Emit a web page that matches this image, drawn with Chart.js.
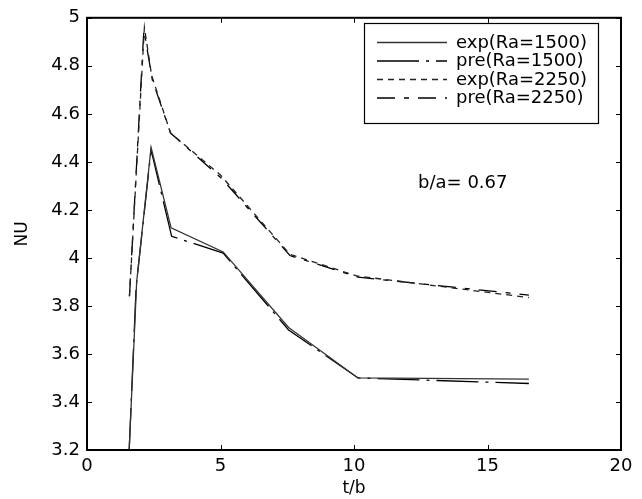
<!DOCTYPE html>
<html>
<head>
<meta charset="utf-8">
<script src="https://cdn.jsdelivr.net/npm/chart.js@4.4.1/dist/chart.umd.min.js"></script>
<style>
  html, body { margin: 0; padding: 0; background: #fff; }
  #wrap { width: 642px; height: 499px; }
</style>
</head>
<body>
<div id="wrap"><canvas id="chart"></canvas></div>
<script>
"use strict";

// values (t/b on x, NU on y)
const exp1500X = [1.58, 1.86, 2.40, 3.15, 5.10, 7.55, 10.15, 16.55];
const exp1500Y = [3.20, 3.90, 4.46, 4.125, 4.025, 3.71, 3.50, 3.495];
const pre1500X = [1.58, 1.84, 2.40, 3.17, 5.10, 7.55, 10.15, 16.55];
const pre1500Y = [3.20, 3.88, 4.45, 4.09, 4.02, 3.70, 3.50, 3.477];
const exp2250X = [1.59, 2.15, 2.42, 3.13, 5.00, 7.60, 10.10, 16.55];
const exp2250Y = [3.84, 4.96, 4.76, 4.52, 4.345, 4.015, 3.925, 3.835];
const pre2250X = [1.59, 2.13, 2.45, 3.13, 5.05, 7.60, 10.15, 16.55];
const pre2250Y = [3.84, 4.95, 4.74, 4.52, 4.33, 4.01, 3.92, 3.845];

const xTickValues = [0, 5, 10, 15, 20];
const yTickValues = [3.2, 3.4, 3.6, 3.8, 4, 4.2, 4.4, 4.6, 4.8, 5];
const yTickLabels = ["3.2", "3.4", "3.6", "3.8", "4", "4.2", "4.4", "4.6", "4.8", "5"];

const seriesLabels = ["exp(Ra=1500)", "pre(Ra=1500)", "exp(Ra=2250)", "pre(Ra=2250)"];
const noteText = "b/a= 0.67";
const notePos = { x: 12.4, y: 4.31 };

const FONT = '"DejaVu Sans", sans-serif';
const zip = (xs, ys) => xs.map((x, i) => ({ x, y: ys[i] }));

const styles = [
  { color: "#333", dash: [] },
  { color: "#000", dash: [42, 7, 3, 7] },
  { color: "#222", dash: [6, 5] },
  { color: "#000", dash: [18, 9, 5, 9] },
];

const datasets = [
  zip(exp1500X, exp1500Y),
  zip(pre1500X, pre1500Y),
  zip(exp2250X, exp2250Y),
  zip(pre2250X, pre2250Y),
].map((data, i) => ({
  label: seriesLabels[i],
  data,
  borderColor: styles[i].color,
  borderDash: styles[i].dash,
  borderWidth: 1.3,
  pointRadius: 0,
  tension: 0,
  fill: false,
}));

/* Box round the axes, inward ticks on all four sides, the legend and the note. */
const framePlugin = {
  id: "frame",
  afterDraw(chart) {
    const { ctx, chartArea: a, scales } = chart;
    const sx = scales.x, sy = scales.y;
    ctx.save();
    ctx.strokeStyle = "#000";
    ctx.lineWidth = 2;
    ctx.strokeRect(a.left, a.top, a.right - a.left, a.bottom - a.top);
    ctx.lineWidth = 1;
    const tl = 5;
    ctx.beginPath();
    xTickValues.forEach((v) => {
      const px = Math.round(sx.getPixelForValue(v)) + 0.5;
      ctx.moveTo(px, a.bottom); ctx.lineTo(px, a.bottom - tl);
      ctx.moveTo(px, a.top); ctx.lineTo(px, a.top + tl);
    });
    yTickValues.forEach((v) => {
      const py = Math.round(sy.getPixelForValue(v)) + 0.5;
      ctx.moveTo(a.left, py); ctx.lineTo(a.left + tl, py);
      ctx.moveTo(a.right, py); ctx.lineTo(a.right - tl, py);
    });
    ctx.stroke();

    // legend
    const bx = 364.5, by = 23.5, bw = 234, bh = 100;
    ctx.fillStyle = "#fff";
    ctx.fillRect(bx, by, bw, bh);
    ctx.strokeStyle = "#000";
    ctx.lineWidth = 1.2;
    ctx.strokeRect(bx, by, bw, bh);
    const rows = [42, 60.5, 79, 97.5];
    ctx.font = "18px " + FONT;
    ctx.textBaseline = "middle";
    ctx.textAlign = "left";
    datasets.forEach((d, i) => {
      ctx.beginPath();
      ctx.setLineDash(styles[i].dash);
      ctx.strokeStyle = styles[i].color;
      ctx.lineWidth = 1.3;
      ctx.moveTo(377, rows[i] + 0.5);
      ctx.lineTo(447, rows[i] + 0.5);
      ctx.stroke();
      ctx.setLineDash([]);
      ctx.fillStyle = "#000";
      ctx.fillText(d.label, 456, rows[i] + 1);
    });

    // annotation
    ctx.font = "18px " + FONT;
    ctx.fillStyle = "#000";
    ctx.fillText(noteText, sx.getPixelForValue(notePos.x), sy.getPixelForValue(notePos.y));
    ctx.restore();
  },
};

new Chart(document.getElementById("chart"), {
  type: "line",
  data: { datasets },
  options: {
    responsive: true,
    maintainAspectRatio: false,
    animation: false,
    layout: { padding: { top: 16, right: 21, left: 0, bottom: 0 } },
    plugins: { legend: { display: false }, tooltip: { enabled: false } },
    scales: {
      x: {
        type: "linear",
        min: 0,
        max: 20,
        afterFit: (s) => { s.height = 49; },
        afterBuildTicks: (s) => { s.ticks = xTickValues.map((v) => ({ value: v })); },
        grid: { display: false, drawTicks: false },
        border: { display: false },
        ticks: { color: "#000", font: { family: FONT, size: 18 }, padding: 6, maxRotation: 0 },
        title: { display: true, text: "t/b", color: "#000", font: { family: FONT, size: 17 }, padding: { top: 0, bottom: 0 } },
      },
      y: {
        type: "linear",
        min: 3.2,
        max: 5,
        afterFit: (s) => { s.width = 87; },
        afterBuildTicks: (s) => { s.ticks = yTickValues.map((v) => ({ value: v })); },
        grid: { display: false, drawTicks: false },
        border: { display: false },
        ticks: {
          color: "#000",
          font: { family: FONT, size: 18 },
          padding: 7,
          callback: (v) => yTickLabels[yTickValues.indexOf(v)] ?? "",
        },
        title: { display: true, text: "NU", color: "#000", font: { family: FONT, size: 17 }, padding: { top: 12, bottom: 0 } },
      },
    },
  },
  plugins: [framePlugin],
});
</script>
</body>
</html>
